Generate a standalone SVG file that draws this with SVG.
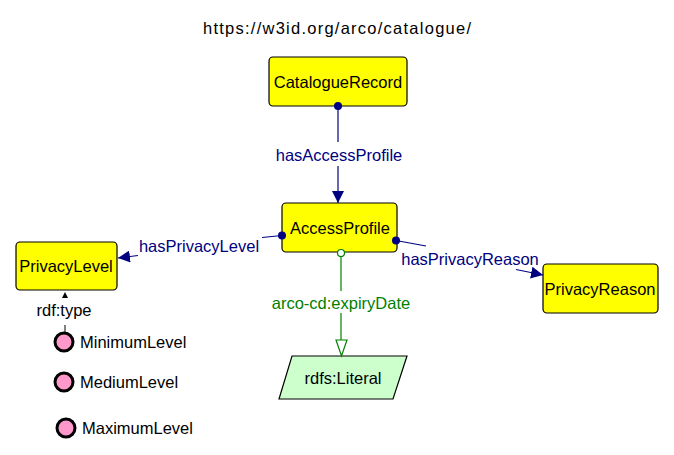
<svg xmlns="http://www.w3.org/2000/svg" width="674" height="455" viewBox="0 0 674 455">
<style>
text{font-family:"Liberation Sans",Arial,sans-serif;font-size:16.5px;}
.cls rect{fill:#ffff00;stroke:#000;stroke-width:1.2;}
.lbl{text-anchor:middle;fill:#000;}
.op{stroke:#000080;stroke-width:1.2;fill:none;}
.opl{fill:#000080;text-anchor:middle;}
.dot{fill:#000080;}
.dp{stroke:#008000;stroke-width:1.2;fill:none;}
.dpl{fill:#008000;text-anchor:middle;}
.ind circle{fill:#ff99cc;stroke:#000;stroke-width:3;}
.ind text{fill:#000;}
</style>
<defs>
<marker id="arr" viewBox="0 0 10 10" refX="10" refY="5" markerWidth="12" markerHeight="12" markerUnits="userSpaceOnUse" orient="auto">
<path d="M0,0L10,5L0,10z" fill="#000080"/>
</marker>
</defs>
<text x="337" y="34" text-anchor="middle" textLength="268" lengthAdjust="spacing">https://w3id.org/arco/catalogue/</text>
<g id="n-CatalogueRecord" class="cls">
<rect x="269" y="57" width="138" height="49" rx="4"/>
<text class="lbl" x="338" y="88">CatalogueRecord</text>
</g>
<g id="n-AccessProfile" class="cls">
<rect x="282" y="203" width="115" height="49" rx="4"/>
<text class="lbl" x="340" y="234">AccessProfile</text>
</g>
<g id="n-PrivacyLevel" class="cls">
<rect x="16" y="242" width="101" height="48" rx="4"/>
<text class="lbl" x="66" y="272">PrivacyLevel</text>
</g>
<g id="n-PrivacyReason" class="cls">
<rect x="543" y="264" width="115" height="49" rx="4"/>
<text class="lbl" x="600" y="295">PrivacyReason</text>
</g>
<g id="n-Literal">
<path d="M292,356 L407,356 L393,399 L279,399z" fill="#ccffcc" stroke="#000" stroke-width="1.2"/>
<text class="lbl" x="343" y="384">rdfs:Literal</text>
</g>
<g id="i-MinimumLevel" class="ind">
<circle cx="64" cy="342" r="9"/>
<text x="80" y="348">MinimumLevel</text>
</g>
<g id="i-MediumLevel" class="ind">
<circle cx="64" cy="382" r="9"/>
<text x="80" y="388">MediumLevel</text>
</g>
<g id="i-MaximumLevel" class="ind">
<circle cx="66" cy="428" r="9"/>
<text x="82" y="434">MaximumLevel</text>
</g>
<g id="connectors">
<g id="e-hasAccessProfile">
<path class="op" d="M338,106 L338,142"/>
<circle class="dot" cx="338" cy="106" r="4"/>
<path class="op" d="M338,166 L338,203" marker-end="url(#arr)"/>
<text class="opl" x="339" y="161">hasAccessProfile</text>
</g>
<g id="e-hasPrivacyLevel">
<path class="op" d="M282,235.5 L262,237.5"/>
<circle class="dot" cx="282" cy="235.5" r="4"/>
<path class="op" d="M138,255.5 L118,258" marker-end="url(#arr)"/>
<text class="opl" x="199" y="252">hasPrivacyLevel</text>
</g>
<g id="e-hasPrivacyReason">
<path class="op" d="M396,240.5 L426,246"/>
<circle class="dot" cx="396" cy="240.5" r="4"/>
<path class="op" d="M516,269.5 L543,275" marker-end="url(#arr)"/>
<text class="opl" x="470" y="265">hasPrivacyReason</text>
</g>
<g id="e-expiryDate">
<circle cx="341" cy="253" r="3.5" fill="#fff" stroke="#008000" stroke-width="1.2"/>
<path class="dp" d="M341,256.5 L341,291"/>
<path class="dp" d="M341,313 L341,340"/>
<path d="M336,340 L347,340 L341.5,356z" fill="#fff" stroke="#008000" stroke-width="1.2"/>
<text class="dpl" x="341" y="309">arco-cd:expiryDate</text>
</g>
<g id="e-rdftype">
<path d="M65,325 L65,332" stroke="#000" stroke-width="1"/>
<path d="M65,292 L62,298 L68,298z" fill="#000"/>
<text class="lbl" x="64" y="316">rdf:type</text>
</g>
</g>
</svg>
